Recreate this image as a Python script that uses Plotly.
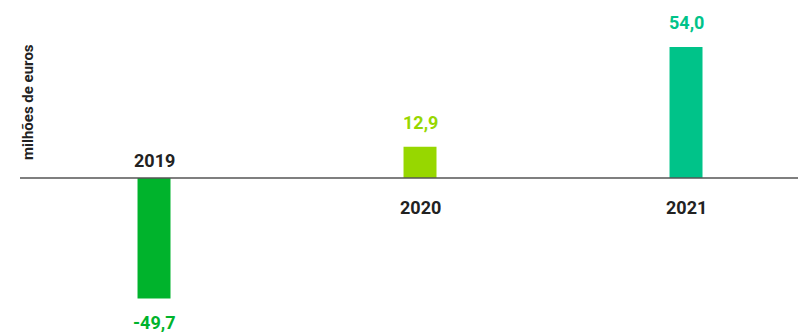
import plotly.graph_objects as go

years = ["2019", "2020", "2021"]
values = [-49.7, 12.9, 54.0]
value_labels = ["-49,7", "12,9", "54,0"]
colors = ["#00B32C", "#97D700", "#00C389"]

x_pos = list(range(len(years)))

fig = go.Figure()
fig.add_trace(go.Bar(
    x=x_pos, y=values, width=0.124,
    marker=dict(color=colors, line=dict(width=0)),
    hoverinfo="skip",
))

annotations = []
for i, (v, lab, c, yr) in enumerate(zip(values, value_labels, colors, years)):
    sgn = 1 if v >= 0 else -1
    annotations.append(dict(
        x=i, y=v, xref="x", yref="y", text=lab, showarrow=False,
        yanchor="middle", yshift=24 * sgn,
        font=dict(family="Roboto", size=18, color=c, weight="bold"),
    ))
    annotations.append(dict(
        x=i, y=0, xref="x", yref="y", text=yr, showarrow=False,
        yanchor="middle", yshift=(-29 if v >= 0 else 18),
        font=dict(family="Roboto", size=18, color="#222222", weight="bold"),
    ))

annotations.append(dict(
    x=0, y=0, xref="paper", yref="y", text="milhões de euros",
    showarrow=False, textangle=-90, xanchor="center", yanchor="bottom",
    xshift=8, yshift=16,
    font=dict(family="Roboto", size=15, color="#222222", weight="bold"),
))

fig.add_shape(type="line", xref="paper", yref="y", x0=0, x1=1, y0=0, y1=0,
              line=dict(color="#555555", width=1.3))

fig.update_layout(
    width=798, height=332,
    margin=dict(l=20, r=0, t=0, b=0),
    paper_bgcolor="white", plot_bgcolor="white",
    showlegend=False,
    xaxis=dict(range=[-0.5038, 2.421], visible=False, fixedrange=True),
    yaxis=dict(range=[-63.48, 73.37], visible=False, fixedrange=True),
    annotations=annotations,
)

fig.write_html("out.html")
